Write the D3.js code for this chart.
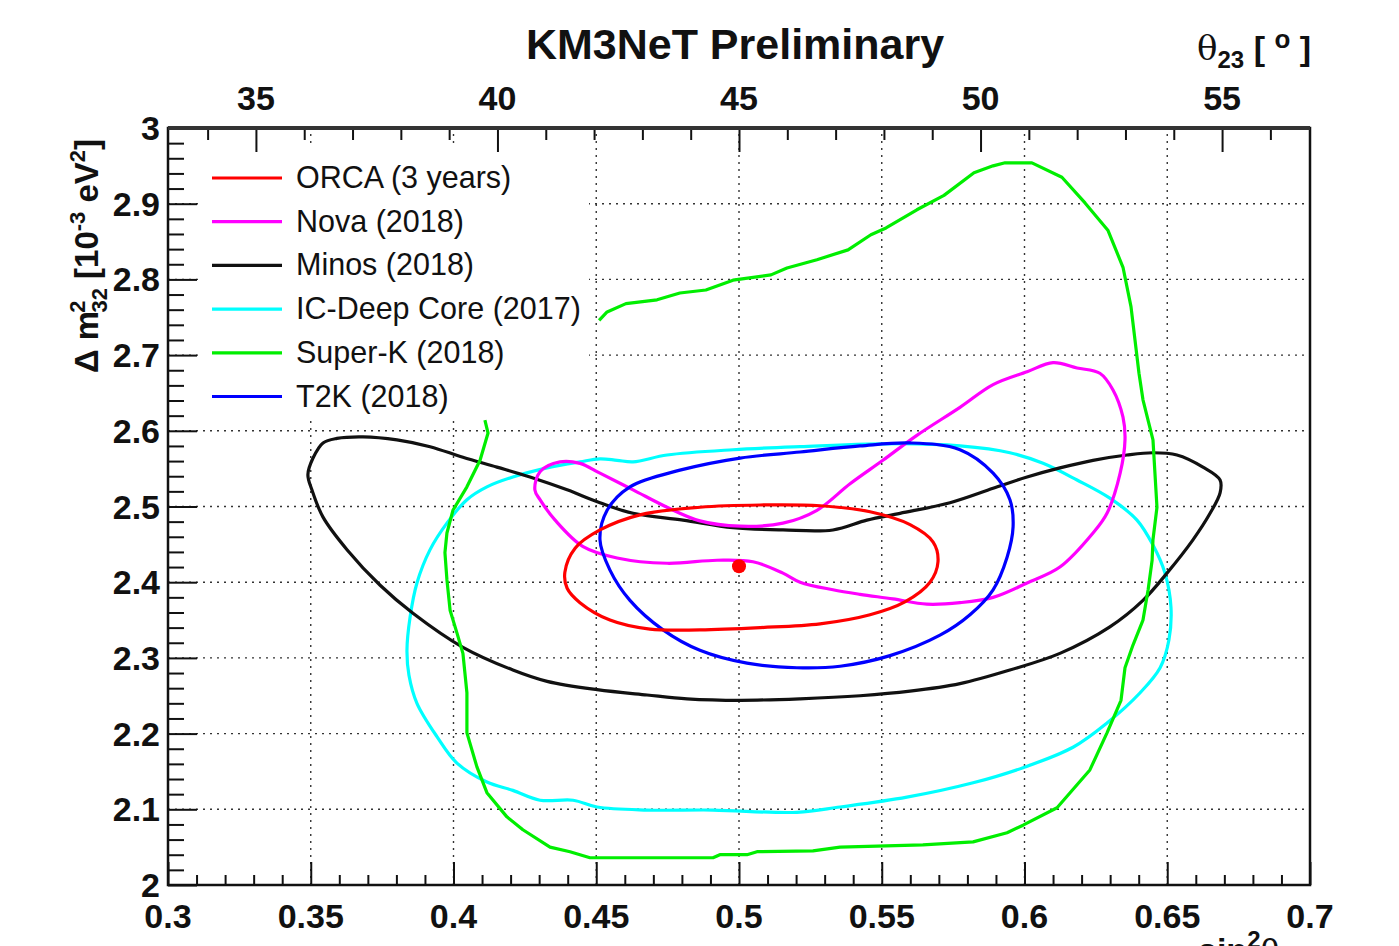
<!DOCTYPE html>
<html>
  <head>
    <title>KM3NeT Preliminary</title>
    <style type="text/css">
        body { margin: 0; background: #fff; }
        svg { display: block; font-family: "Liberation Sans", Arial, sans-serif; }
        .tick-label { font-size: 34px; font-weight: bold; fill: #111; }
        .legend text { font-size: 30.5px; fill: #111; }
        .grid line { stroke: #333; stroke-width: 1.4; stroke-dasharray: 2,5; }
    </style>
  </head>
  <body>
    <svg width="1399" height="946"></svg>
    <script src="https://d3js.org/d3.v7.min.js"></script>
    <script>

    // sin^2(theta23) ticks, dm2 ticks (10^-3 eV^2), theta23 ticks (deg)
    var sinTicks = [0.3, 0.35, 0.4, 0.45, 0.5, 0.55, 0.6, 0.65, 0.7];
    var dmTicks = [2, 2.1, 2.2, 2.3, 2.4, 2.5, 2.6, 2.7, 2.8, 2.9, 3];
    var thetaTicks = [35, 40, 45, 50, 55];
    var thetaRange = [33.18, 56.82];

    var names = ["ORCA (3 years)", "Nova (2018)", "Minos (2018)", "IC-Deep Core (2017)", "Super-K (2018)", "T2K (2018)"];
    var colors = ["#ff0000", "#ff00ff", "#111111", "#00ffff", "#00ee00", "#0000ff"];

    // best fit ORCA
    var orcaBest = [0.5, 2.421];

    // contours [sin2, dm2]
    var orca = [
      [0.439,2.413],[0.4426,2.445],[0.4513,2.469],[0.4653,2.489],[0.4863,2.499],[0.5074,2.502],
      [0.5284,2.501],[0.5459,2.493],[0.5599,2.476],[0.568,2.453],[0.5697,2.427],[0.5669,2.400],
      [0.5581,2.374],[0.5459,2.357],[0.5284,2.345],[0.5074,2.340],[0.4863,2.337],[0.4688,2.338],
      [0.4548,2.350],[0.4443,2.373],[0.4398,2.392]
    ];

    var t2k = [
      [0.4513,2.456],[0.4538,2.495],[0.4618,2.526],[0.4793,2.548],[0.5004,2.564],[0.5214,2.572],
      [0.5424,2.580],[0.5599,2.584],[0.5774,2.575],[0.5890,2.544],[0.5949,2.509],[0.5960,2.473],
      [0.5939,2.433],[0.5890,2.390],[0.5809,2.357],[0.5704,2.330],[0.5529,2.303],[0.5354,2.289],
      [0.5203,2.287],[0.5028,2.293],[0.4863,2.310],[0.4734,2.337],[0.4618,2.376],[0.4548,2.416]
    ];

    var nova = [
      [0.4285,2.522],[0.4303,2.546],[0.4373,2.559],[0.4443,2.557],[0.4513,2.544],[0.4629,2.522],
      [0.4748,2.499],[0.4863,2.481],[0.5004,2.474],[0.5154,2.478],[0.5273,2.495],[0.5389,2.530],
      [0.5504,2.561],[0.5623,2.594],[0.5774,2.631],[0.5890,2.661],[0.6009,2.678],[0.6100,2.690],
      [0.6184,2.683],[0.6264,2.676],[0.6310,2.654],[0.6345,2.618],[0.6352,2.588],[0.6335,2.544],
      [0.6289,2.491],[0.6240,2.465],[0.6124,2.420],[0.6009,2.399],[0.5890,2.380],[0.5774,2.373],
      [0.5658,2.371],[0.5539,2.378],[0.5424,2.384],[0.5329,2.390],[0.5214,2.400],[0.5154,2.412],
      [0.5049,2.427],[0.4923,2.429],[0.4748,2.425],[0.4573,2.432],[0.4454,2.447],[0.4356,2.482],
      [0.4303,2.509]
    ];

    var minos = [
      [0.3490,2.542],[0.3508,2.564],[0.3543,2.584],[0.3592,2.590],[0.3683,2.592],[0.3802,2.588],
      [0.3918,2.579],[0.4033,2.565],[0.4152,2.552],[0.4268,2.539],[0.4398,2.522],[0.4513,2.505],
      [0.4629,2.491],[0.4804,2.482],[0.4979,2.472],[0.5154,2.469],[0.5329,2.469],[0.5448,2.482],
      [0.5564,2.491],[0.5739,2.505],[0.5890,2.524],[0.6009,2.539],[0.6124,2.551],[0.6240,2.561],
      [0.6359,2.568],[0.6450,2.571],[0.6534,2.568],[0.6625,2.552],[0.6685,2.535],[0.6685,2.518],
      [0.6650,2.491],[0.6590,2.456],[0.6499,2.412],[0.6415,2.376],[0.6299,2.341],[0.6124,2.306],
      [0.5949,2.284],[0.5774,2.266],[0.5599,2.256],[0.5424,2.250],[0.5214,2.246],[0.5004,2.244],
      [0.4818,2.246],[0.4678,2.251],[0.4503,2.258],[0.4328,2.269],[0.4208,2.284],[0.4033,2.314],
      [0.3858,2.359],[0.3743,2.396],[0.3627,2.443],[0.3543,2.486],[0.3504,2.522]
    ];

    var icdc = [
      [0.3837,2.310],[0.3848,2.354],[0.3872,2.399],[0.3918,2.443],[0.3977,2.478],[0.4047,2.509],
      [0.4117,2.526],[0.4208,2.539],[0.4328,2.551],[0.4443,2.559],[0.4513,2.563],[0.4573,2.561],
      [0.4629,2.559],[0.4748,2.568],[0.4979,2.575],[0.5214,2.579],[0.5564,2.583],[0.5774,2.580],
      [0.5949,2.571],[0.6065,2.557],[0.6184,2.535],[0.6299,2.511],[0.6394,2.482],[0.6450,2.449],
      [0.6492,2.412],[0.6513,2.367],[0.6506,2.324],[0.6475,2.287],[0.6405,2.254],[0.6289,2.214],
      [0.6170,2.182],[0.5995,2.155],[0.5820,2.135],[0.5588,2.116],[0.5354,2.103],[0.5203,2.096],
      [0.4909,2.099],[0.4678,2.099],[0.4503,2.103],[0.4419,2.112],[0.4303,2.112],[0.4208,2.125],
      [0.4117,2.136],[0.4012,2.161],[0.3942,2.196],[0.3872,2.240],[0.3844,2.277]
    ];

    var superk = [
      [0.4510,2.746],[0.4538,2.757],[0.4604,2.768],[0.4713,2.773],[0.4793,2.782],[0.4884,2.786],
      [0.4979,2.799],[0.5112,2.806],[0.5168,2.815],[0.5273,2.826],[0.5382,2.839],[0.5462,2.859],
      [0.5515,2.868],[0.5623,2.892],[0.5718,2.911],[0.5823,2.941],[0.5890,2.950],[0.5932,2.954],
      [0.6026,2.954],[0.6131,2.935],[0.6212,2.901],[0.6292,2.865],[0.6345,2.816],[0.6373,2.764],
      [0.6401,2.676],[0.6415,2.641],[0.6450,2.588],[0.6464,2.499],[0.6450,2.456],[0.6447,2.429],
      [0.6433,2.390],[0.6415,2.350],[0.6380,2.317],[0.6352,2.287],[0.6338,2.244],[0.6289,2.201],
      [0.6229,2.152],[0.6114,2.102],[0.5995,2.079],[0.5939,2.069],[0.5820,2.057],[0.5644,2.053],
      [0.5354,2.050],[0.5259,2.045],[0.5063,2.044],[0.5028,2.040],[0.4933,2.040],[0.4909,2.036],
      [0.4478,2.036],[0.4408,2.044],[0.4338,2.050],[0.4243,2.073],[0.4187,2.090],[0.4117,2.122],
      [0.4082,2.156],[0.4047,2.201],[0.4047,2.254],[0.4033,2.306],[0.4012,2.333],[0.3988,2.363],
      [0.3977,2.403],[0.3970,2.439],[0.3977,2.465],[0.3998,2.495],[0.4047,2.526],[0.4093,2.561],
      [0.4121,2.597],[0.4110,2.614]
    ];

    var svg = d3.select("svg");

    var x = d3.scaleLinear().domain([0.3, 0.7]).range([168, 1310]);
    var y = d3.scaleLinear().domain([2, 3]).range([885, 128]);
    var xTop = d3.scaleLinear().domain(thetaRange).range([168, 1310]);

    // grid
    var grid = svg.append("g").attr("class", "grid");
    grid.selectAll(".gx")
      .data(sinTicks.slice(1, -1))
      .enter().append("line")
        .attr("x1", function(d) { return x(d); })
        .attr("x2", function(d) { return x(d); })
        .attr("y1", y(2)).attr("y2", y(3));
    grid.selectAll(".gy")
      .data(dmTicks.slice(1, -1))
      .enter().append("line")
        .attr("x1", x(0.3)).attr("x2", x(0.7))
        .attr("y1", function(d) { return y(d); })
        .attr("y2", function(d) { return y(d); });

    function isMajor(list) {
      return function(d) { return list.some(function(t) { return Math.abs(t - d) < 1e-6; }); };
    }

    // legend box (white, hides the grid)
    svg.append("rect")
        .attr("x", 199).attr("y", 146)
        .attr("width", 390).attr("height", 274)
        .attr("fill", "#fff");

    // bottom axis
    var bottomAxis = svg.append("g").attr("transform", "translate(0," + y(2) + ")");
    bottomAxis.call(d3.axisBottom(x)
        .tickValues(d3.range(0.3, 0.7001, 0.01))
        .tickSize(-10).tickFormat(""));
    bottomAxis.selectAll(".tick").filter(isMajor(sinTicks))
        .select("line").attr("y2", -23);
    bottomAxis.select(".domain").remove();
    bottomAxis.selectAll(".tick line").attr("stroke", "#111").attr("stroke-width", 2);

    svg.append("g").selectAll("text")
      .data(sinTicks)
      .enter().append("text")
        .attr("class", "tick-label")
        .attr("x", function(d) { return x(d); })
        .attr("y", 928)
        .attr("text-anchor", "middle")
        .text(function(d) { return d; });

    // left axis
    var leftAxis = svg.append("g").attr("transform", "translate(" + x(0.3) + ",0)");
    leftAxis.call(d3.axisLeft(y)
        .tickValues(d3.range(2, 3.0001, 0.02))
        .tickSize(-16).tickFormat(""));
    leftAxis.selectAll(".tick").filter(isMajor(dmTicks))
        .select("line").attr("x2", 29);
    leftAxis.select(".domain").remove();
    leftAxis.selectAll(".tick line").attr("stroke", "#111").attr("stroke-width", 2);

    svg.append("g").selectAll("text")
      .data(dmTicks)
      .enter().append("text")
        .attr("class", "tick-label")
        .attr("x", 160)
        .attr("y", function(d) { return y(d) + 12; })
        .attr("text-anchor", "end")
        .text(function(d) { return d; });

    // top axis (theta23, degrees)
    var topAxis = svg.append("g").attr("transform", "translate(0," + y(3) + ")");
    topAxis.call(d3.axisBottom(xTop)
        .tickValues(d3.range(34, 57, 1))
        .tickSize(12).tickFormat(""));
    topAxis.selectAll(".tick").filter(function(d) { return thetaTicks.indexOf(d) >= 0; })
        .select("line").attr("y2", 24);
    topAxis.select(".domain").remove();
    topAxis.selectAll(".tick line").attr("stroke", "#111").attr("stroke-width", 2);

    svg.append("g").selectAll("text")
      .data(thetaTicks)
      .enter().append("text")
        .attr("class", "tick-label")
        .attr("x", function(d) { return xTop(d); })
        .attr("y", 110)
        .attr("text-anchor", "middle")
        .text(function(d) { return d; });

    // frame
    svg.append("rect")
        .attr("x", x(0.3)).attr("y", y(3))
        .attr("width", x(0.7) - x(0.3)).attr("height", y(2) - y(3))
        .attr("fill", "none").attr("stroke", "#111").attr("stroke-width", 2.5);
    svg.append("line")
        .attr("x1", x(0.3)).attr("x2", x(0.7))
        .attr("y1", y(3)).attr("y2", y(3))
        .attr("stroke", "#333").attr("stroke-width", 4);

    // contours
    var closedLine = d3.line()
        .x(function(d) { return x(d[0]); })
        .y(function(d) { return y(d[1]); })
        .curve(d3.curveCatmullRomClosed.alpha(0.5));
    var openLine = d3.line()
        .x(function(d) { return x(d[0]); })
        .y(function(d) { return y(d[1]); });

    var curves = [
      { data: icdc, color: colors[3], gen: closedLine },
      { data: minos, color: colors[2], gen: closedLine },
      { data: superk, color: colors[4], gen: openLine },
      { data: nova, color: colors[1], gen: closedLine },
      { data: t2k, color: colors[5], gen: closedLine },
      { data: orca, color: colors[0], gen: closedLine }
    ];

    svg.append("g").selectAll("path")
      .data(curves)
      .enter().append("path")
        .attr("d", function(d) { return d.gen(d.data); })
        .attr("fill", "none")
        .attr("stroke", function(d) { return d.color; })
        .attr("stroke-width", 3.2)
        .attr("stroke-linejoin", "round");

    svg.append("circle")
        .attr("cx", x(orcaBest[0]))
        .attr("cy", y(orcaBest[1]))
        .attr("r", 7)
        .attr("fill", "#ff0000");

    // legend
    var legend = svg.append("g").attr("class", "legend");
    var item = legend.selectAll("g")
      .data(names)
      .enter().append("g")
        .attr("transform", function(d, i) { return "translate(0," + (178 + i * 43.7) + ")"; });
    item.append("line")
        .attr("x1", 212).attr("x2", 282)
        .attr("stroke", function(d, i) { return colors[i]; })
        .attr("stroke-width", 3.2);
    item.append("text")
        .attr("x", 296).attr("y", 10)
        .text(function(d) { return d; });

    // titles
    svg.append("text")
        .attr("x", 735).attr("y", 59)
        .attr("text-anchor", "middle")
        .attr("font-size", 43).attr("font-weight", "bold").attr("fill", "#111")
        .text("KM3NeT Preliminary");

    var tt = svg.append("text")
        .attr("x", 1197).attr("y", 60)
        .attr("font-size", 34).attr("font-weight", "bold").attr("fill", "#111");
    tt.append("tspan").attr("font-weight", "normal").attr("font-family", "DejaVu Serif").text("θ");
    tt.append("tspan").attr("font-size", 24).attr("dy", 8).text("23");
    tt.append("tspan").attr("dy", -8).text(" [ ");
    tt.append("tspan").attr("font-size", 26).attr("dy", -12).text("o");
    tt.append("tspan").attr("dy", 12).text(" ]");

    var yt = svg.append("text")
        .attr("transform", "translate(98,256) rotate(-90)")
        .attr("text-anchor", "middle")
        .attr("font-size", 33).attr("font-weight", "bold").attr("fill", "#111");
    yt.append("tspan").text("Δ m");
    yt.append("tspan").attr("font-size", 22).attr("dy", -13).attr("dx", -2).text("2");
    yt.append("tspan").attr("font-size", 22).attr("dy", 22).attr("dx", -12).text("32");
    yt.append("tspan").attr("dy", -9).text(" [10");
    yt.append("tspan").attr("font-size", 22).attr("dy", -13).text("-3");
    yt.append("tspan").attr("dy", 13).text(" eV");
    yt.append("tspan").attr("font-size", 22).attr("dy", -13).text("2");
    yt.append("tspan").attr("dy", 13).text("]");

    var xt = svg.append("text")
        .attr("x", 1198).attr("y", 962)
        .attr("font-size", 34).attr("font-weight", "bold").attr("fill", "#111");
    xt.append("tspan").text("sin");
    xt.append("tspan").attr("font-size", 24).attr("dy", -14).text("2");
    xt.append("tspan").attr("dy", 14).attr("font-weight", "normal").text("θ");

    </script>
  </body>
</html>
